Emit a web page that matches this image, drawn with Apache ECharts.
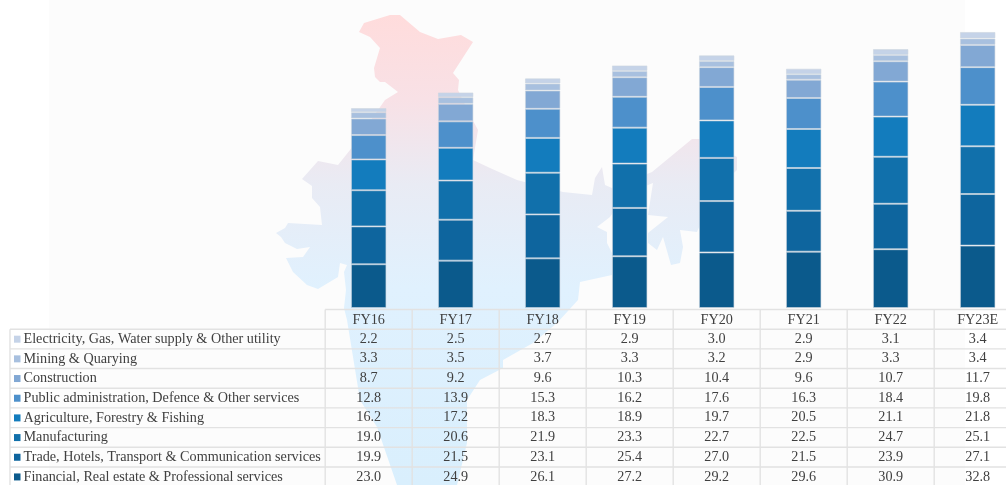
<!DOCTYPE html>
<html><head><meta charset="utf-8">
<style>html,body{margin:0;padding:0;background:#fff;overflow:hidden}#c{width:1006px;height:485px;filter:blur(0.45px)}</style>
<script src="https://cdn.jsdelivr.net/npm/echarts@6/dist/echarts.min.js"></script>
</head><body><div id="c"></div>
<script>
const categories = ['FY16','FY17','FY18','FY19','FY20','FY21','FY22','FY23E'];
const electricity = [2.2,2.5,2.7,2.9,3.0,2.9,3.1,3.4];
const mining = [3.3,3.5,3.7,3.3,3.2,2.9,3.3,3.4];
const construction = [8.7,9.2,9.6,10.3,10.4,9.6,10.7,11.7];
const publicAdmin = [12.8,13.9,15.3,16.2,17.6,16.3,18.4,19.8];
const agriculture = [16.2,17.2,18.3,18.9,19.7,20.5,21.1,21.8];
const manufacturing = [19.0,20.6,21.9,23.3,22.7,22.5,24.7,25.1];
const trade = [19.9,21.5,23.1,25.4,27.0,21.5,23.9,27.1];
const financial = [23.0,24.9,26.1,27.2,29.2,29.6,30.9,32.8];
const decimals = v => v.toFixed(1);
const rows = [
 ['Electricity, Gas, Water supply & Other utility', electricity, '#c5d3e8'],
 ['Mining & Quarying', mining, '#a8c0df'],
 ['Construction', construction, '#82a8d4'],
 ['Public administration, Defence & Other services', publicAdmin, '#4d90cb'],
 ['Agriculture, Forestry & Fishing', agriculture, '#137cbd'],
 ['Manufacturing', manufacturing, '#1170ab'],
 ['Trade, Hotels, Transport & Communication services', trade, '#0e659e'],
 ['Financial, Real estate & Professional services', financial, '#0b5a8c']
];
const FONT = '"Liberation Serif","Times New Roman",serif';
const colW = 87, tableL = 325.2, tableT = 309.5, rowH = 19.68;
const line = '#e2e2e2', txt = '#404040';
const g = [];
g.push({type:'rect',z:-20,silent:true,shape:{x:49,y:0,width:916,height:485},style:{fill:'#fcfcfc'}});
const mapPts = [[359,32],[364,23],[390,15],[400,15],[420,32],[438,39],[461,35],[473,42],[453,73],[459,80],[458,90],[470,115],[478,130],[473,160],[490,168],[517,180],[563,192],[592,195],[595,178],[602,167],[605,185],[612,188],[652,172],[692,139],[700,139],[737,157],[737,170],[715,190],[697,232],[680,230],[683,247],[680,263],[671,265],[663,237],[657,250],[648,243],[648,233],[668,217],[648,215],[653,183],[648,185],[625,195],[610,217],[598,203],[600,195],[612,205],[610,217],[597,227],[607,232],[607,243],[612,253],[612,275],[580,282],[578,300],[557,323],[533,343],[503,360],[503,368],[480,380],[467,400],[467,443],[457,485],[397,485],[377,427],[360,400],[347,320],[344,308],[346,290],[344,272],[347,265],[340,263],[338,277],[318,289],[307,285],[293,272],[286,258],[303,257],[310,247],[297,249],[285,243],[281,237],[276,233],[285,228],[288,223],[322,225],[320,207],[312,198],[312,186],[302,179],[318,161],[338,165],[350,150],[385,100],[398,92],[385,82],[380,82],[375,77],[374,68],[380,48],[370,37]];
g.push({type:'polygon',z:-10,silent:true,shape:{points:mapPts},style:{fill:new echarts.graphic.LinearGradient(0,0,0,1,[{offset:0,color:'#ffdcdc'},{offset:0.18,color:'#f8e1e6'},{offset:0.36,color:'#e9ebf4'},{offset:0.58,color:'#e0f1fe'},{offset:1,color:'#d9effd'}])}});
const nCols = categories.length, rightX = tableL + colW*nCols;
function hl(x1,x2,y){g.push({type:'line',z:1,silent:true,shape:{x1,y1:y,x2,y2:y},style:{stroke:line,lineWidth:1.4}});}
function vl(x,y1,y2){g.push({type:'line',z:1,silent:true,shape:{x1:x,y1,x2:x,y2},style:{stroke:line,lineWidth:1.4}});}
hl(tableL,rightX,tableT);
for(let i=1;i<=rows.length+1;i++) hl(10,rightX,tableT+i*rowH);
vl(10,tableT+rowH,485);
for(let c=0;c<=nCols;c++) vl(tableL+c*colW,tableT,485);
rows.forEach((r,i)=>{
  r[1].forEach((v,c)=>{
    g.push({type:'text',z:5,silent:true,x:tableL+(c+0.5)*colW,y:tableT+(i+1.5)*rowH,style:{text:decimals(v),font:'14.2px '+FONT,fill:txt,align:'center',verticalAlign:'middle'}});
  });
});
const series = rows.slice().reverse().map(r=>({
  name:r[0],type:'bar',stack:'gva',barWidth:35.5,data:r[1],
  itemStyle:{color:r[2],borderColor:'rgba(205,214,224,0.6)',borderWidth:1},
  silent:true,animation:false
}));
const chart = echarts.init(document.getElementById('c'),null,{renderer:'canvas'});
chart.setOption({
  animation:false,backgroundColor:'#fff',
  grid:{left:tableL,top:3.6,width:colW*nCols,height:304.4,outerBoundsMode:'none'},
  legend:{orient:'vertical',left:14,top:tableT+rowH+3,itemWidth:6.5,itemHeight:7,itemGap:5.68,icon:'rect',selectedMode:false,padding:0,
    itemStyle:{borderWidth:0},
    data:rows.map(r=>r[0]),textStyle:{fontFamily:FONT,fontSize:14.2,color:txt,lineHeight:14,padding:[0,0,0,-2]}},
  xAxis:{type:'category',data:categories,axisLine:{show:false},axisTick:{show:false},
    axisLabel:{fontFamily:FONT,fontSize:14.2,color:txt,margin:5,interval:0}},
  yAxis:{type:'value',min:0,max:160,show:false},
  graphic:{elements:g},
  series
});
</script></body></html>
